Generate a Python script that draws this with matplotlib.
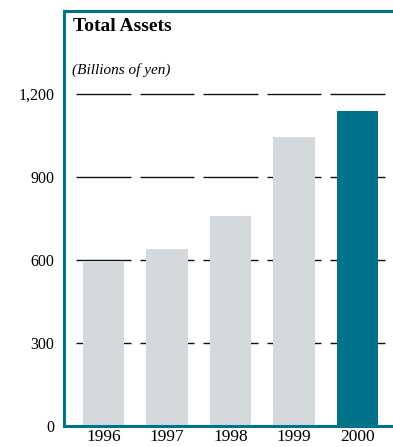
import matplotlib.pyplot as plt
import numpy as np

# data
years = ['1996', '1997', '1998', '1999', '2000']
assets = [598, 640, 759, 1045, 1139]
yticks = [0, 300, 600, 900, 1200]
ytick_labels = ['0', '300', '600', '900', '1,200']

teal = '#00728a'
grey = '#d4d9dd'

plt.rcParams['font.family'] = ['Liberation Serif', 'DejaVu Serif']

fig = plt.figure(figsize=(3.93, 4.47), dpi=100)
ax = fig.add_axes([64 / 393, 21 / 447, 1 - 64 / 393, 415 / 447])

x = np.arange(len(years))
colors = [grey] * (len(years) - 1) + [teal]

# grid drawn as short segments per category, behind the bars
for v in yticks[1:]:
    ax.hlines([v] * len(x), x - 0.43, x + 0.43, color='#111111', lw=1.0, zorder=1)

ax.bar(x, assets, width=0.65, color=colors, zorder=2)

ax.set_xlim(-0.62, 4.56)
ax.set_ylim(0, 1500)
ax.set_xticks(x)
ax.set_xticklabels(years, fontsize=12.5)
ax.tick_params(axis='x', length=0, pad=2)
ax.set_yticks(yticks)
ax.set_yticklabels(ytick_labels, fontsize=11.5)
ax.tick_params(axis='y', length=0, pad=7)

for s in ['left', 'top', 'bottom']:
    ax.spines[s].set_color(teal)
    ax.spines[s].set_linewidth(2.2)
ax.spines['right'].set_visible(False)

ax.text(0.028, 0.982, 'Total Assets', transform=ax.transAxes, fontsize=14,
        fontweight='bold', va='top', ha='left')
ax.text(0.025, 0.875, '(Billions of yen)', transform=ax.transAxes, fontsize=11,
        style='italic', va='top', ha='left')

fig.savefig('out.png', dpi=100)
